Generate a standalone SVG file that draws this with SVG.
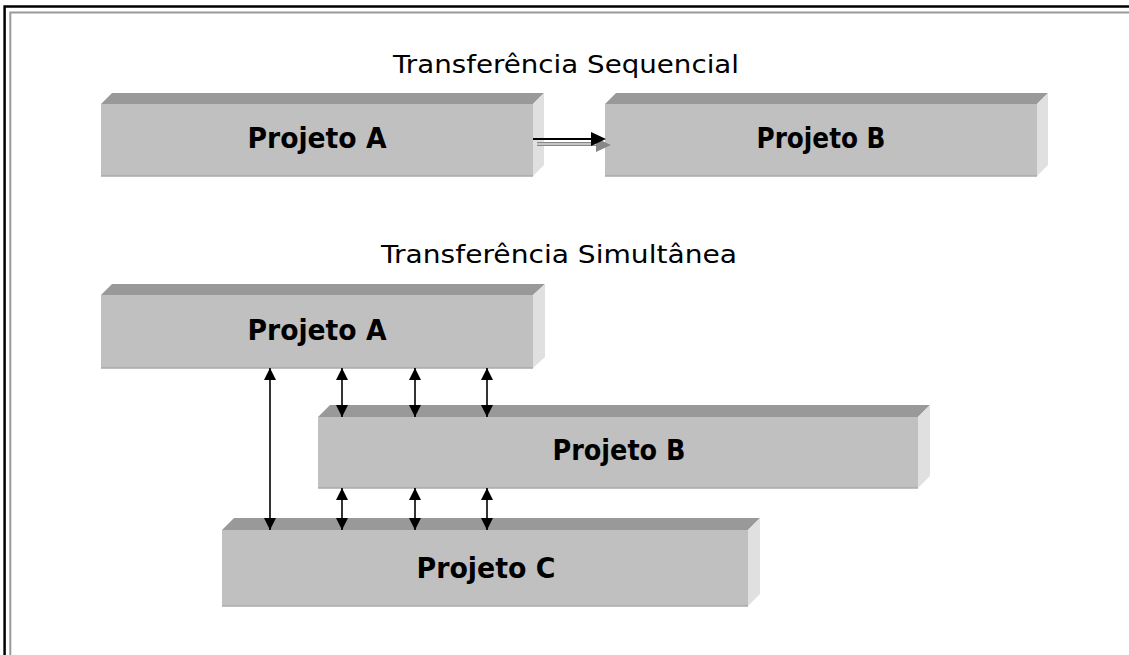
<svg xmlns="http://www.w3.org/2000/svg" width="1129" height="655" viewBox="0 0 1129 655">
<defs>
<style>
.front{fill:#c0c0c0;}
.top{fill:#999999;}
.side{fill:#e0e0e0;}
.edge{fill:none;stroke:#aaaaaa;stroke-width:1.5;}
.lbl{font-family:"DejaVu Sans",sans-serif;font-weight:bold;font-size:28px;fill:#000;text-anchor:middle;}
.ttl{font-family:"DejaVu Sans",sans-serif;font-size:25px;fill:#000;}
.conn{stroke:#000;stroke-width:1.6;fill:none;}
</style>
<marker id="ah2" viewBox="0 0 10 10" refX="10" refY="5" markerWidth="14" markerHeight="12" markerUnits="userSpaceOnUse" orient="auto-start-reverse">
<path d="M0,0 L10,5 L0,10 Z" fill="#000"/>
</marker>
</defs>
<rect width="1129" height="655" fill="#fff"/>
<path d="M4.6,660 V6.6 H1135" fill="none" stroke="#000" stroke-width="2.5"/>
<path d="M10.3,660 V12.4 H1135" fill="none" stroke="#999" stroke-width="2"/>

<text class="ttl" x="393" y="73" textLength="346" lengthAdjust="spacingAndGlyphs">Transferência Sequencial</text>
<text class="ttl" x="381" y="263" textLength="356" lengthAdjust="spacingAndGlyphs">Transferência Simultânea</text>

<g id="seqA">
<polygon class="top" points="101,104 112,93 544,93 533,104"/>
<polygon class="side" points="533,104 544,93 544,165 533,176"/>
<rect class="front" x="101" y="104" width="432" height="72"/>
<path class="edge" d="M101,176 H533"/>
<text class="lbl" x="317" y="148" textLength="139" lengthAdjust="spacingAndGlyphs">Projeto A</text>
</g>
<g id="seqB">
<polygon class="top" points="605,104 616,93 1048,93 1037,104"/>
<polygon class="side" points="1037,104 1048,93 1048,165 1037,176"/>
<rect class="front" x="605" y="104" width="432" height="72"/>
<path class="edge" d="M605,176 H1037"/>
<text class="lbl" x="821" y="148" textLength="129" lengthAdjust="spacingAndGlyphs">Projeto B</text>
</g>
<g id="simA">
<polygon class="top" points="101,295 112,284 545,284 533,295"/>
<polygon class="side" points="533,295 545,284 545,357 533,368"/>
<rect class="front" x="101" y="295" width="432" height="73"/>
<path class="edge" d="M101,368 H533"/>
<text class="lbl" x="317" y="340" textLength="139" lengthAdjust="spacingAndGlyphs">Projeto A</text>
</g>
<g id="simB">
<polygon class="top" points="318,417 330,405 930,405 918,417"/>
<polygon class="side" points="918,417 930,405 930,476 918,488"/>
<rect class="front" x="318" y="417" width="600" height="71"/>
<path class="edge" d="M318,488 H918"/>
<text class="lbl" x="619" y="460" textLength="133" lengthAdjust="spacingAndGlyphs">Projeto B</text>
</g>
<g id="simC">
<polygon class="top" points="222,530 234,518 760,518 748,530"/>
<polygon class="side" points="748,530 760,518 760,594 748,606"/>
<rect class="front" x="222" y="530" width="526" height="76"/>
<path class="edge" d="M222,606 H748"/>
<text class="lbl" x="486" y="578" textLength="139" lengthAdjust="spacingAndGlyphs">Projeto C</text>
</g>

<g id="connectors">
<path d="M537,144 H603" stroke="#888" stroke-width="4" fill="none"/>
<path d="M537,144 H603" stroke="#fff" stroke-width="1.2" fill="none"/>
<path d="M596,138 L611,145 L596,152 Z" fill="#888"/>
<path d="M533,139 H593" stroke="#000" stroke-width="2.2" fill="none"/>
<path d="M591,132 L606,139 L591,146 Z" fill="#000"/>
<line class="conn" x1="270" y1="368" x2="270" y2="530" marker-start="url(#ah2)" marker-end="url(#ah2)"/>
<line class="conn" x1="342" y1="368" x2="342" y2="417" marker-start="url(#ah2)" marker-end="url(#ah2)"/>
<line class="conn" x1="415" y1="368" x2="415" y2="417" marker-start="url(#ah2)" marker-end="url(#ah2)"/>
<line class="conn" x1="487" y1="368" x2="487" y2="417" marker-start="url(#ah2)" marker-end="url(#ah2)"/>
<line class="conn" x1="342" y1="488" x2="342" y2="530" marker-start="url(#ah2)" marker-end="url(#ah2)"/>
<line class="conn" x1="415" y1="488" x2="415" y2="530" marker-start="url(#ah2)" marker-end="url(#ah2)"/>
<line class="conn" x1="487" y1="488" x2="487" y2="530" marker-start="url(#ah2)" marker-end="url(#ah2)"/>
</g>
</svg>
